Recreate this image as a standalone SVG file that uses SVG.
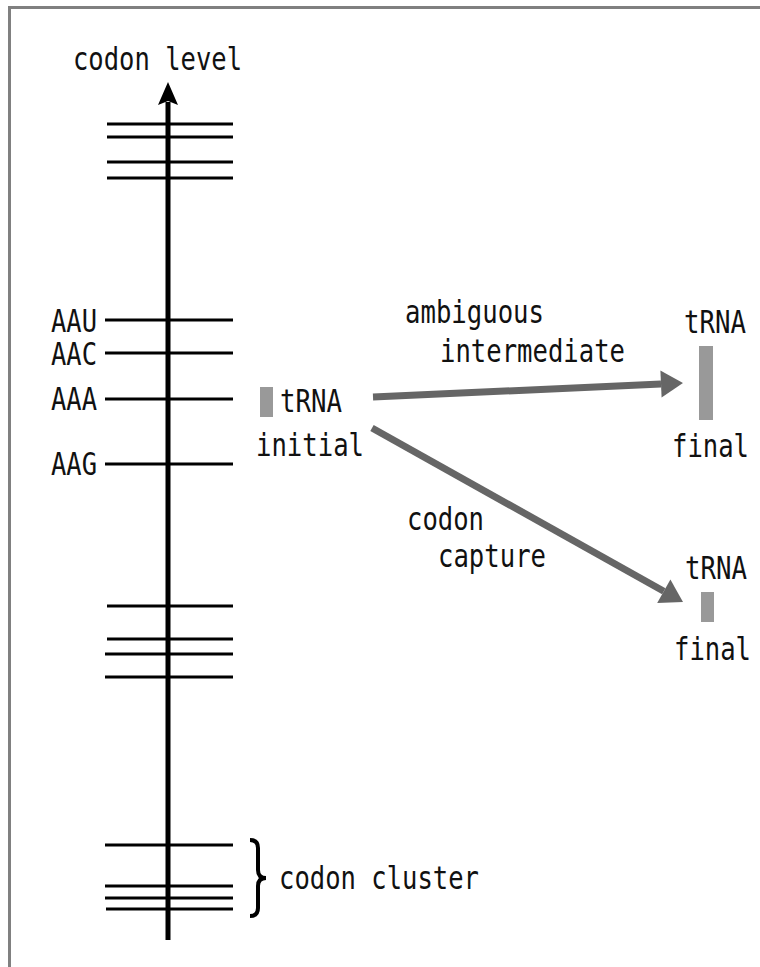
<svg xmlns="http://www.w3.org/2000/svg" width="760" height="967" viewBox="0 0 760 967">
<style>
text{font-family:"DejaVu Sans Mono","Liberation Mono",monospace;font-size:32px;fill:#111}
.lv{stroke:#000;stroke-width:3}
.ar{stroke:#666;stroke-width:7;fill:none}
.tr{fill:#999}
</style>
<defs>
<marker id="ah" markerUnits="userSpaceOnUse" markerWidth="22" markerHeight="27" refX="0" refY="13.5" orient="auto" overflow="visible">
<path d="M0,0 L22,13.5 L0,27 z" fill="#666"/>
</marker>
</defs>
<rect width="760" height="967" fill="#fff"/>
<rect x="9.5" y="7.5" width="800" height="1000" fill="none" stroke="#808080" stroke-width="3"/>
<g id="axis">
<line x1="168" y1="940" x2="168" y2="102" stroke="#000" stroke-width="5"/>
<path d="M168,82 L178,105 L168,101 L158,105 z" fill="#000"/>
<text x="73" y="70" textLength="169" lengthAdjust="spacingAndGlyphs">codon level</text>
</g>
<g id="codon-lines">
<line class="lv" x1="107" y1="124" x2="233" y2="124"/>
<line class="lv" x1="107" y1="137" x2="233" y2="137"/>
<line class="lv" x1="107" y1="162" x2="233" y2="162"/>
<line class="lv" x1="107" y1="178" x2="233" y2="178"/>
<line class="lv" x1="105" y1="320" x2="233" y2="320"/>
<line class="lv" x1="105" y1="353" x2="233" y2="353"/>
<line class="lv" x1="105" y1="399" x2="233" y2="399"/>
<line class="lv" x1="105" y1="464" x2="233" y2="464"/>
<line class="lv" x1="107" y1="606" x2="233" y2="606"/>
<line class="lv" x1="107" y1="639" x2="233" y2="639"/>
<line class="lv" x1="105" y1="654" x2="233" y2="654"/>
<line class="lv" x1="105" y1="677" x2="233" y2="677"/>
<line class="lv" x1="105" y1="845" x2="233" y2="845"/>
<line class="lv" x1="105" y1="886" x2="233" y2="886"/>
<line class="lv" x1="105" y1="898" x2="233" y2="898"/>
<line class="lv" x1="106" y1="909" x2="233" y2="909"/>
</g>
<g id="codon-labels">
<text x="51" y="332" textLength="46" lengthAdjust="spacingAndGlyphs">AAU</text>
<text x="51" y="365" textLength="46" lengthAdjust="spacingAndGlyphs">AAC</text>
<text x="51" y="410" textLength="46" lengthAdjust="spacingAndGlyphs">AAA</text>
<text x="51" y="475" textLength="46" lengthAdjust="spacingAndGlyphs">AAG</text>
</g>
<g id="trna-initial">
<rect class="tr" x="260" y="387" width="13" height="30"/>
<text x="280" y="412" textLength="62" lengthAdjust="spacingAndGlyphs">tRNA</text>
<text x="256" y="456" textLength="108" lengthAdjust="spacingAndGlyphs">initial</text>
</g>
<g id="trna-final-1">
<text x="684" y="333" textLength="62" lengthAdjust="spacingAndGlyphs">tRNA</text>
<rect class="tr" x="699" y="346" width="14" height="74"/>
<text x="672" y="457" textLength="77" lengthAdjust="spacingAndGlyphs">final</text>
</g>
<g id="trna-final-2">
<text x="685" y="579" textLength="62" lengthAdjust="spacingAndGlyphs">tRNA</text>
<rect class="tr" x="701" y="592" width="13" height="30"/>
<text x="674" y="660" textLength="77" lengthAdjust="spacingAndGlyphs">final</text>
</g>
<g id="connectors">
<line class="ar" x1="373" y1="397" x2="661" y2="384" marker-end="url(#ah)"/>
<line class="ar" x1="372" y1="428" x2="663.8" y2="591.2" marker-end="url(#ah)"/>
<text x="405" y="323" textLength="139" lengthAdjust="spacingAndGlyphs">ambiguous</text>
<text x="440" y="362" textLength="185" lengthAdjust="spacingAndGlyphs">intermediate</text>
<text x="407" y="530" textLength="77" lengthAdjust="spacingAndGlyphs">codon</text>
<text x="438" y="567" textLength="108" lengthAdjust="spacingAndGlyphs">capture</text>
</g>
<g id="cluster">
<path d="M250,840 Q258,840 258,848 L258,870 Q258,878 266,878 Q258,878 258,886 L258,908 Q258,916 250,916" fill="none" stroke="#000" stroke-width="4"/>
<text x="279" y="889" textLength="200" lengthAdjust="spacingAndGlyphs">codon cluster</text>
</g>
</svg>
